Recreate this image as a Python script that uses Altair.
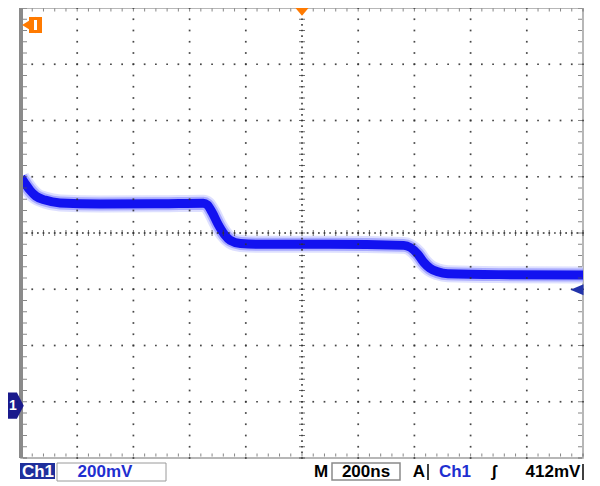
import altair as alt
import pandas as pd

# scope settings (Ch1)
ns_per_div = 200
mv_per_div = 200
ground_div = -3.07      # ch1 ground marker, in divisions from screen centre
trig_level_mv = 412

# trace: time (ns) / level above ground (mV)
trace_ns = [-1000, -986, -968, -947, -914, -861, -718, -500, -351, -337, -319, -298,
            -276, -255, -219, -148, 100, 362, 412, 433, 455, 483, 519, 700, 1000]
trace_mv = [812, 791, 766, 745, 731, 721, 717, 718, 720, 714, 686, 644,
            609, 588, 577, 574, 574, 570, 539, 510, 489, 476, 469, 466, 465]

status_labels = ["Ch1", "200mV", "M", "200ns", "A", "Ch1", "ʃ", "412mV"]


def to_mv(div):
    return (div - ground_div) * mv_per_div


W, H = 562, 450
xs = alt.Scale(domain=[-5 * ns_per_div, 5 * ns_per_div], nice=False, zero=False)
ys = alt.Scale(domain=[to_mv(-4), to_mv(4)], nice=False, zero=False)


def X(field="t"):
    return alt.X(field + ":Q", scale=xs, axis=None)


def Y(field="v"):
    return alt.Y(field + ":Q", scale=ys, axis=None)


# dotted graticule
dots = []
for k in range(-4, 5):
    if k != 0:
        dots += [(k * ns_per_div, to_mv(-4 + j * 0.2)) for j in range(41)]
for k in range(-3, 4):
    if k != 0:
        dots += [(-1000 + i * 40, to_mv(k)) for i in range(51)]
dots += [(0, to_mv(-4 + j * 0.1)) for j in range(81)]
dots += [(-1000 + i * 20, to_mv(0)) for i in range(101)]
dots_df = pd.DataFrame(dots, columns=["t", "v"])

hticks = pd.DataFrame([(0, to_mv(-4 + j * 0.2)) for j in range(41)], columns=["t", "v"])
vticks = pd.DataFrame([(-1000 + i * 40, to_mv(0)) for i in range(51)], columns=["t", "v"])
left_df = pd.DataFrame([(-1000, to_mv(-4 + j * 0.2)) for j in range(41)], columns=["t", "v"])
right_df = pd.DataFrame([(1000, to_mv(-4 + j * 0.2)) for j in range(41)], columns=["t", "v"])
top_df = pd.DataFrame([(-1000 + i * 40, to_mv(4)) for i in range(51)], columns=["t", "v"])
bot_df = pd.DataFrame([(-1000 + i * 40, to_mv(-4)) for i in range(51)], columns=["t", "v"])

HPATH = "M-1,0L1,0"
VPATH = "M0,-1L0,1"

trace_df = pd.DataFrame({"t": trace_ns, "v": trace_mv})

base = alt.Chart(trace_df)
halo = base.mark_line(color="#d2d4ff", strokeWidth=17, opacity=0.75, interpolate="monotone",
                      strokeCap="butt", clip=True).encode(x=X(), y=Y())
mid = base.mark_line(color="#7c7eff", strokeWidth=13, opacity=0.55, interpolate="monotone",
                     strokeCap="butt", clip=True).encode(x=X(), y=Y())
core = base.mark_line(color="#1212f0", strokeWidth=9, interpolate="monotone",
                      strokeCap="butt", clip=True).encode(x=X(), y=Y())

grid = alt.Chart(dots_df).mark_square(size=3, color="#333333", opacity=0.9).encode(x=X(), y=Y())
ct1 = alt.Chart(hticks).mark_point(shape=HPATH, size=36, color="#333333", strokeWidth=1).encode(x=X(), y=Y())
ct2 = alt.Chart(vticks).mark_point(shape=VPATH, size=36, color="#333333", strokeWidth=1).encode(x=X(), y=Y())
bt_l = alt.Chart(left_df).mark_point(shape=HPATH, size=16, color="#555555", strokeWidth=1, xOffset=4).encode(x=X(), y=Y())
bt_r = alt.Chart(right_df).mark_point(shape=HPATH, size=16, color="#555555", strokeWidth=1, xOffset=-3).encode(x=X(), y=Y())
bt_t = alt.Chart(top_df).mark_point(shape=VPATH, size=9, color="#555555", strokeWidth=1, yOffset=2).encode(x=X(), y=Y())
bt_b = alt.Chart(bot_df).mark_point(shape=VPATH, size=9, color="#555555", strokeWidth=1, yOffset=-3).encode(x=X(), y=Y())

left_edge = alt.Chart(pd.DataFrame({"t": [-1000]})).mark_rule(color="#8a8a8a", strokeWidth=4).encode(x=X())

one = pd.DataFrame({"k": [0]})

# trigger position (top) and trigger level (right)
TRI_DOWN = "M-1,-0.6L1,-0.6L0,0.6Z"
TRI_LEFT = "M1,-0.85L1,0.85L-1,0Z"
trig_pos = alt.Chart(one).mark_point(shape=TRI_DOWN, size=260, filled=True, color="#ff7a00", opacity=1).encode(
    x=alt.X("k:Q", scale=xs, axis=None), y=alt.value(3))
trig_lvl = alt.Chart(pd.DataFrame({"v": [trig_level_mv]})).mark_point(
    shape=TRI_LEFT, size=170, filled=True, color="#2233aa", opacity=1).encode(x=alt.value(W - 6), y=Y())

# orange marker, top left
orange_arrow = alt.Chart(one).mark_point(shape="M1,-1.1L1,1.1L-0.8,0Z", size=220, filled=True,
                                         color="#ff7a00", opacity=1).encode(x=alt.value(7), y=alt.value(17))
orange_box = alt.Chart(one).mark_rect(color="#ff7a00").encode(
    x=alt.value(8), x2=alt.value(21), y=alt.value(9), y2=alt.value(25))
orange_in = alt.Chart(one).mark_rect(color="white").encode(
    x=alt.value(13), x2=alt.value(16), y=alt.value(12), y2=alt.value(22))

# ch1 ground marker, left
gnd = alt.Chart(pd.DataFrame({"v": [0]}))
gnd_mark = gnd.mark_point(shape="M-1,-1.35L0.3,-1.35L1,0L0.3,1.35L-1,1.35Z", size=380, filled=True,
                          color="#1a1a8c", opacity=1).encode(x=alt.value(-7), y=Y())
gnd_txt = gnd.mark_text(text="1", color="white", font="Liberation Sans", fontWeight="bold",
                        fontSize=14, baseline="middle").encode(x=alt.value(-8), y=Y())

# status bar
ch_box = alt.Chart(one).mark_rect(color="#1f2f9c").encode(
    x=alt.value(-1), x2=alt.value(34), y=alt.value(455), y2=alt.value(471))
volt_box = alt.Chart(one).mark_rect(fill="white", stroke="#9a9a9a", strokeWidth=1).encode(
    x=alt.value(36), x2=alt.value(145), y=alt.value(455), y2=alt.value(473))
time_box = alt.Chart(one).mark_rect(fill="white", stroke="#8a8a8a", strokeWidth=1.5).encode(
    x=alt.value(311), x2=alt.value(379), y=alt.value(455), y2=alt.value(472))


def label(i, x, color="black"):
    return alt.Chart(pd.DataFrame({"txt": [status_labels[i]]})).mark_text(
        font="Liberation Sans", fontWeight="bold", fontSize=17, color=color,
        baseline="middle", align="center"
    ).encode(x=alt.value(x), y=alt.value(464), text="txt:N")


texts = [
    label(0, 17, "white"),
    label(1, 84, "#1f2fd0"),
    label(2, 300),
    label(3, 345),
    label(4, 398),
    label(5, 434, "#1f2fd0"),
    label(6, 473),
    label(7, 532),
]
div1 = alt.Chart(one).mark_rule(color="black", strokeWidth=1.5).encode(
    x=alt.value(407), y=alt.value(456), y2=alt.value(472))
div2 = alt.Chart(one).mark_rule(color="black", strokeWidth=1.5).encode(
    x=alt.value(562), y=alt.value(456), y2=alt.value(472))

chart = alt.layer(
    halo, mid, core, grid, ct1, ct2, bt_l, bt_r, bt_t, bt_b, left_edge,
    trig_pos, trig_lvl, orange_arrow, orange_box, orange_in, gnd_mark, gnd_txt,
    ch_box, volt_box, time_box, *texts, div1, div2
).properties(
    width=W, height=H,
    autosize="none",
    padding={"left": 13, "top": 0, "right": 5, "bottom": 28},
    background="white"
).configure_view(
    stroke="#a0a0a0", strokeWidth=1.5
)

chart.save("out.html", embed_options={"renderer": "svg", "actions": False})
